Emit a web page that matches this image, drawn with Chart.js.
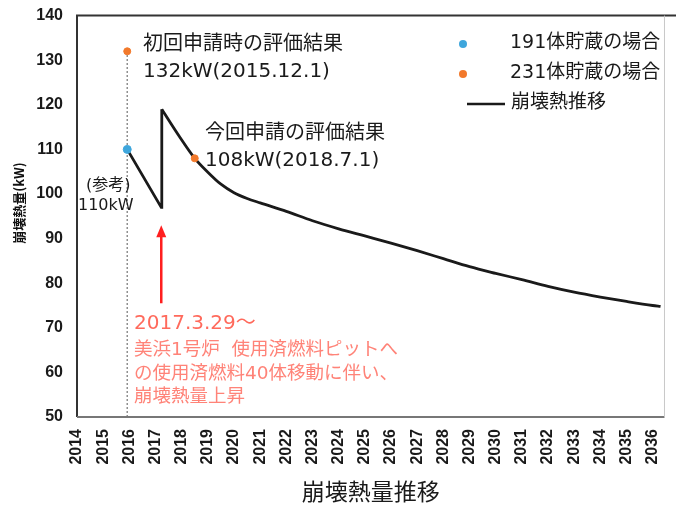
<!DOCTYPE html>
<html>
<head>
<meta charset="utf-8">
<script src="https://cdn.jsdelivr.net/npm/chart.js@4/dist/chart.umd.min.js"></script>
<style>
  html, body { margin: 0; padding: 0; background: #fff; }
  #wrap { width: 676px; height: 505px; }
</style>
</head>
<body>
<div id="wrap"><canvas id="decayChart" width="676" height="505"></canvas></div>
<script>
// tick labels
const yearTicks = [2014, 2015, 2016, 2017, 2018, 2019, 2020, 2021, 2022, 2023, 2024, 2025,
                   2026, 2027, 2028, 2029, 2030, 2031, 2032, 2033, 2034, 2035, 2036];
const kwTicks = [50, 60, 70, 80, 90, 100, 110, 120, 130, 140];

// decay heat: drop until transfer, then jump
const dropX = [2015.92, 2017.22, 2017.24];
const dropY = [110, 97, 119];

// decay heat after transfer
const decayX = [2017.24, 2017.9, 2018.5, 2019, 2019.5, 2020, 2020.5, 2021, 2022, 2023, 2024, 2025,
                2026, 2027, 2028, 2029, 2030, 2031, 2032, 2033, 2034, 2035, 2036, 2036.3];
const decayY = [119, 113, 108, 104.9, 102.2, 100.3, 99.0, 98.0, 96.1, 94.0, 92.2, 90.6,
                89.0, 87.3, 85.5, 83.7, 82.2, 80.8, 79.3, 78.0, 76.9, 75.9, 75.0, 74.8];

// evaluation points
const case191X = [2015.92];
const case191Y = [110];
const case231X = [2015.92, 2018.5];
const case231Y = [132, 108];

// reference line at first application
const refX = [2015.92, 2015.92];
const refY = [50, 132];

const zip = (xs, ys) => xs.map((x, i) => ({ x: x, y: ys[i] }));

const JP = '"Noto Sans CJK JP", "Noto Sans", sans-serif';
const MIX = '"DejaVu Sans", "Noto Sans CJK JP", sans-serif';
const TICK = '"Liberation Sans", Arial, sans-serif';
const BLUE = '#3ea6dc';
const ORANGE = '#f2792b';

const overlay = {
    id: 'overlay',
    afterDraw(chart) {
        const ctx = chart.ctx;
        const xs = chart.scales.x;
        const ys = chart.scales.y;
        const a = chart.chartArea;
        ctx.save();

        // frame
        ctx.strokeStyle = '#333';
        ctx.lineWidth = 2;
        ctx.beginPath();
        ctx.moveTo(a.left, a.bottom);
        ctx.lineTo(a.left, a.top);
        ctx.lineTo(chart.width, a.top);
        ctx.stroke();
        ctx.strokeStyle = '#777';
        ctx.beginPath();
        ctx.moveTo(a.left, a.bottom);
        ctx.lineTo(a.right, a.bottom);
        ctx.stroke();
        ctx.strokeStyle = '#c8c8c8';
        ctx.lineWidth = 1;
        ctx.beginPath();
        ctx.moveTo(a.right, a.top);
        ctx.lineTo(a.right, a.bottom);
        ctx.stroke();

        // y axis title
        ctx.save();
        ctx.translate(19, 203);
        ctx.rotate(-Math.PI / 2);
        ctx.textAlign = 'center';
        ctx.textBaseline = 'middle';
        ctx.fillStyle = '#111';
        ctx.font = 'bold 13px ' + JP;
        ctx.fillText('崩壊熱量(kW)', 0, 0);
        ctx.restore();

        // annotations
        ctx.textBaseline = 'middle';
        ctx.textAlign = 'left';
        ctx.fillStyle = '#1a1a1a';
        ctx.font = '20px ' + MIX;
        ctx.fillText('初回申請時の評価結果', 143, 45);
        ctx.fillText('132kW(2015.12.1)', 143, 72);
        ctx.fillText('今回申請の評価結果', 205, 134);
        ctx.fillText('108kW(2018.7.1)', 205, 161);
        ctx.font = '16px ' + MIX;
        ctx.fillText('(参考)', 86, 186);
        ctx.fillText('110kW', 78, 206);

        // arrow
        const ax = xs.getPixelForValue(2017.22);
        const tip = ys.getPixelForValue(93);
        const tail = ys.getPixelForValue(75.5);
        ctx.strokeStyle = '#ff1f1f';
        ctx.fillStyle = '#ff1f1f';
        ctx.lineWidth = 2.5;
        ctx.beginPath();
        ctx.moveTo(ax, tail);
        ctx.lineTo(ax, tip + 10);
        ctx.stroke();
        ctx.beginPath();
        ctx.moveTo(ax, tip);
        ctx.lineTo(ax - 5, tip + 12);
        ctx.lineTo(ax + 5, tip + 12);
        ctx.closePath();
        ctx.fill();

        ctx.fillStyle = '#ff6a5c';
        ctx.font = '20px ' + MIX;
        ctx.fillText('2017.3.29～', 134, 324);
        ctx.fillStyle = '#ff8378';
        ctx.font = '18.5px ' + MIX;
        ctx.fillText('美浜1号炉  使用済燃料ピットへ', 134, 350);
        ctx.fillText('の使用済燃料40体移動に伴い、', 134, 374);
        ctx.fillText('崩壊熱量上昇', 134, 397);

        // legend
        ctx.fillStyle = '#1a1a1a';
        ctx.font = '19px ' + MIX;
        ctx.fillText('191体貯蔵の場合', 510, 43);
        ctx.fillText('231体貯蔵の場合', 510, 73);
        ctx.fillText('崩壊熱推移', 511, 103);
        ctx.fillStyle = BLUE;
        ctx.beginPath();
        ctx.arc(463, 44, 4, 0, Math.PI * 2);
        ctx.fill();
        ctx.fillStyle = ORANGE;
        ctx.beginPath();
        ctx.arc(463, 74, 4, 0, Math.PI * 2);
        ctx.fill();
        ctx.strokeStyle = '#1a1a1a';
        ctx.lineWidth = 2.5;
        ctx.beginPath();
        ctx.moveTo(467, 104);
        ctx.lineTo(505, 104);
        ctx.stroke();

        ctx.restore();
    }
};

new Chart(document.getElementById('decayChart').getContext('2d'), {
    type: 'scatter',
    data: {
        datasets: [
            {
                label: 'ref',
                data: zip(refX, refY),
                showLine: true,
                borderColor: '#909090',
                borderWidth: 1.5,
                borderDash: [2, 2],
                pointRadius: 0,
                order: 5
            },
            {
                label: '崩壊熱推移',
                data: zip(dropX, dropY),
                showLine: true,
                borderColor: '#1a1a1a',
                borderWidth: 2.8,
                tension: 0,
                pointRadius: 0,
                order: 3
            },
            {
                label: '崩壊熱推移 (after)',
                data: zip(decayX, decayY),
                showLine: true,
                borderColor: '#1a1a1a',
                borderWidth: 2.8,
                cubicInterpolationMode: 'monotone',
                pointRadius: 0,
                order: 3
            },
            {
                label: '191体貯蔵の場合',
                data: zip(case191X, case191Y),
                backgroundColor: BLUE,
                borderColor: BLUE,
                pointRadius: 4,
                order: 1
            },
            {
                label: '231体貯蔵の場合',
                data: zip(case231X, case231Y),
                backgroundColor: ORANGE,
                borderColor: ORANGE,
                pointRadius: 3.5,
                order: 1
            }
        ]
    },
    options: {
        responsive: false,
        animation: false,
        layout: { padding: { top: 8, right: 4, left: 0, bottom: 0 } },
        plugins: {
            legend: { display: false },
            tooltip: { enabled: false }
        },
        scales: {
            x: {
                type: 'linear',
                min: 2014,
                max: 2036.45,
                afterBuildTicks: function (axis) {
                    axis.ticks = yearTicks.map(v => ({ value: v }));
                },
                afterFit: function (axis) { axis.height = 88; },
                grid: { display: false },
                border: { display: false },
                ticks: {
                    minRotation: 90,
                    maxRotation: 90,
                    color: '#1a1a1a',
                    padding: 4,
                    font: { family: TICK, size: 16, weight: 'bold' },
                    callback: v => String(v)
                },
                title: {
                    display: true,
                    text: '崩壊熱量推移',
                    color: '#1a1a1a',
                    font: { family: JP, size: 23 },
                    padding: { top: 6, bottom: 0 }
                }
            },
            y: {
                min: 50,
                max: 140,
                afterBuildTicks: function (axis) {
                    axis.ticks = kwTicks.map(v => ({ value: v }));
                },
                afterFit: function (axis) { axis.width = 77; },
                grid: { display: false },
                border: { display: false },
                ticks: {
                    color: '#1a1a1a',
                    padding: 6,
                    font: { family: TICK, size: 16, weight: 'bold' }
                },
                title: { display: false }
            }
        }
    },
    plugins: [overlay]
});
</script>
</body>
</html>
